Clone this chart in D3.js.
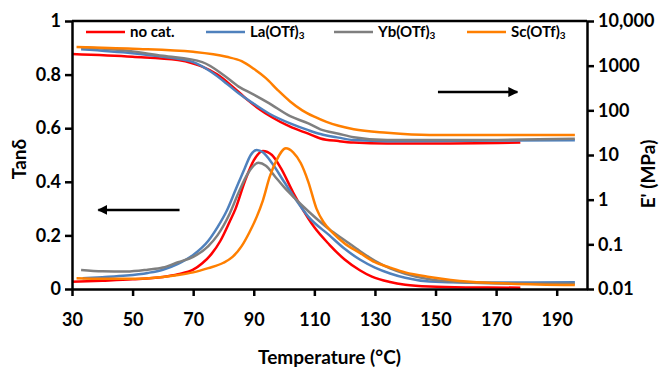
<!DOCTYPE html>
<html>
<head>
<meta charset="utf-8">
<script src="https://cdn.jsdelivr.net/npm/d3@7"></script>
<style>
  body { margin: 0; background: #fff; }
  svg { font-family: "Lato", sans-serif; font-weight: bold; }
</style>
</head>
<body>
<div class="canvas"></div>
<script>
// series names and colours
const seriesNames = ["no cat.", "La(OTf)", "Yb(OTf)", "Sc(OTf)"];
const seriesColors = ["#ff0000", "#4f81bd", "#7f7f7f", "#ff7f00"];

// tan delta curves, [temperature, tan delta]
const tanNoCat = [[30,0.027],[40,0.031],[50,0.036],[60,0.045],[65,0.055],[70,0.072],[73,0.096],[76,0.13],[79,0.18],[82,0.25],[84,0.3],[87,0.4],[90,0.48],[93,0.515],[96,0.5],[99,0.45],[103,0.36],[106,0.3],[110,0.23],[115,0.165],[120,0.11],[125,0.07],[129,0.046],[135,0.026],[140,0.016],[148,0.009],[160,0.006],[178,0.005]];
const tanLa = [[33.5,0.04],[40,0.044],[48,0.05],[55,0.06],[60,0.072],[65,0.094],[70,0.127],[75,0.18],[78,0.23],[81,0.29],[84,0.37],[87,0.45],[89,0.5],[91,0.519],[93,0.51],[96,0.47],[100,0.4],[103.6,0.338],[108,0.27],[115,0.2],[120,0.15],[125,0.11],[130,0.08],[135,0.058],[140,0.042],[148,0.028],[160,0.024],[175,0.024],[196,0.025]];
const tanYb = [[33,0.071],[40,0.066],[48,0.065],[55,0.072],[60,0.08],[65,0.1],[70,0.12],[75,0.16],[78,0.2],[82,0.28],[85,0.36],[88,0.43],[91.5,0.471],[94,0.46],[97,0.42],[100,0.38],[103.6,0.338],[108,0.29],[112,0.25],[115,0.222],[120,0.182],[125,0.142],[130,0.105],[135,0.077],[140,0.057],[148,0.036],[160,0.024],[175,0.02],[196,0.02]];
const tanSc = [[31.5,0.04],[40,0.038],[50,0.038],[60,0.045],[65,0.052],[70,0.062],[75,0.078],[80,0.098],[83,0.12],[86,0.16],[88.5,0.21],[91,0.27],[93,0.33],[95.3,0.42],[97.5,0.48],[100.6,0.525],[103,0.51],[105.5,0.47],[108,0.4],[110.7,0.3],[113,0.25],[116,0.21],[120,0.17],[125,0.135],[130,0.1],[135,0.08],[140,0.062],[148,0.045],[155,0.034],[161.5,0.027],[175,0.02],[196,0.015]];

// storage modulus curves, [temperature, E' in MPa]
const modNoCat = [[30,1820],[50,1580],[65,1340],[70,1120],[73,950],[78,630],[83,340],[88,170],[92,105],[96,70],[102,43],[108,30],[112,23.5],[118,20.5],[123,19],[134,18.2],[150,18.2],[178,19]];
const modLa = [[33,2340],[50,1900],[60,1580],[70,1200],[76,720],[81,400],[85,240],[90,140],[95,85],[102,51],[108,36],[112,29.5],[118,24.5],[123,21.6],[134,20.4],[160,20.8],[196,21.4]];
const modYb = [[33,2570],[50,2090],[60,1660],[73,1200],[80,620],[85,340],[90,225],[95,145],[102,74],[108,51],[112,37.6],[118,30],[123,25],[134,21.6],[160,21.6],[196,23]];
const modSc = [[31.5,2630],[50,2400],[70,2040],[81,1580],[86,1260],[90,850],[94,525],[98,280],[102,158],[106,100],[110,72],[114,55],[118,45],[123,37.6],[134,31.6],[148,28.2],[170,28.2],[196,28.2]];

// axis ticks
const xTicks = [30, 50, 70, 90, 110, 130, 150, 170, 190];
const tanTicks = [0, 0.2, 0.4, 0.6, 0.8, 1];
const modTicks = [0.01, 0.1, 1, 10, 100, 1000, 10000];
const modTickLabels = ["0.01", "0.1", "1", "10", "100", "1000", "10,000"];

const tanSeries = [tanNoCat, tanLa, tanYb, tanSc];
const modSeries = [modNoCat, modLa, modYb, modSc];

const dims = {width: 661, height: 368};
const margin = {top: 21, right: 74, bottom: 79, left: 72};

const svg = d3.select(".canvas")
    .append("svg")
    .attr("width", dims.width)
    .attr("height", dims.height);

const x = d3.scaleLinear()
    .domain([30, 200])
    .range([margin.left, dims.width - margin.right]);
const yTan = d3.scaleLinear()
    .domain([0, 1])
    .range([dims.height - margin.bottom, margin.top]);
const yMod = d3.scaleLog()
    .domain([0.01, 10000])
    .range([dims.height - margin.bottom, margin.top]);

// curves
const tanLine = d3.line()
    .x(d => x(d[0]))
    .y(d => yTan(d[1]))
    .curve(d3.curveMonotoneX);
const modLine = d3.line()
    .x(d => x(d[0]))
    .y(d => yMod(d[1]))
    .curve(d3.curveMonotoneX);

const curves = svg.append("g")
    .attr("fill", "none")
    .attr("stroke-width", 2.5)
    .attr("stroke-linejoin", "round");

modSeries.forEach((s, i) => {
    curves.append("path")
        .attr("d", modLine(s))
        .attr("stroke", seriesColors[i]);
});
tanSeries.forEach((s, i) => {
    curves.append("path")
        .attr("d", tanLine(s))
        .attr("stroke", seriesColors[i]);
});

// axes
const xAxis = svg.append("g")
    .attr("transform", `translate(0, ${yTan(0)})`)
    .call(d3.axisBottom(x).tickValues(xTicks).tickSize(7).tickPadding(17).tickSizeOuter(0));
const leftAxis = svg.append("g")
    .attr("transform", `translate(${x(30)}, 0)`)
    .call(d3.axisLeft(yTan).tickValues(tanTicks).tickSize(7).tickPadding(4).tickSizeOuter(0)
        .tickFormat(d => d === 0 || d === 1 ? String(d) : d.toFixed(1)));
const rightAxis = svg.append("g")
    .attr("transform", `translate(${x(200)}, 0)`)
    .call(d3.axisRight(yMod).tickValues(modTicks).tickSize(7).tickPadding(4).tickSizeOuter(0)
        .tickFormat((d, i) => modTickLabels[i]));

[xAxis, leftAxis, rightAxis].forEach(a => {
    a.selectAll("path, line").attr("stroke", "#000").attr("stroke-width", 2.5);
    a.selectAll("text")
        .attr("fill", "#000")
        .style("font-family", "Lato, sans-serif")
        .style("font-weight", "bold")
        .style("font-size", "18px");
});

// top frame line
svg.append("line")
    .attr("x1", x(30)).attr("x2", x(200))
    .attr("y1", yTan(1)).attr("y2", yTan(1))
    .attr("stroke", "#000").attr("stroke-width", 2.5);

// axis titles
svg.append("text")
    .attr("x", (x(30) + x(200)) / 2)
    .attr("y", 364)
    .attr("text-anchor", "middle")
    .style("font-size", "19px")
    .text("Temperature (°C)");
svg.append("text")
    .attr("transform", `translate(26, ${(yTan(0) + yTan(1)) / 2 + 4}) rotate(-90)`)
    .attr("text-anchor", "middle")
    .style("font-size", "19px")
    .text("Tanδ");
svg.append("text")
    .attr("transform", `translate(655, 174) rotate(-90)`)
    .attr("text-anchor", "middle")
    .style("font-size", "19px")
    .text("E' (MPa)");

// legend
const legendX = [86, 206, 334, 467];
const legend = svg.append("g");
seriesNames.forEach((name, i) => {
    legend.append("line")
        .attr("x1", legendX[i]).attr("x2", legendX[i] + 39)
        .attr("y1", 32).attr("y2", 32)
        .attr("stroke", seriesColors[i])
        .attr("stroke-width", 2.5);
    const t = legend.append("text")
        .attr("x", legendX[i] + 44)
        .attr("y", 37)
        .style("font-size", "15px")
        .text(name);
    if (i > 0) {
        t.append("tspan")
            .attr("dy", 2)
            .style("font-size", "10px")
            .text("3");
    }
});

// arrows pointing to the axis each group belongs to
const defs = svg.append("defs");
defs.append("marker")
    .attr("id", "head")
    .attr("viewBox", "0 0 10 10")
    .attr("refX", 9).attr("refY", 5)
    .attr("markerWidth", 4).attr("markerHeight", 4)
    .attr("orient", "auto")
    .append("path")
    .attr("d", "M0,0L10,5L0,10Z")
    .attr("fill", "#000");

const arrowTan = {from: 65.5, to: 38.7, value: 0.295};
const arrowMod = {from: 150.8, to: 177, value: 257};
svg.append("line")
    .attr("x1", x(arrowTan.from)).attr("x2", x(arrowTan.to))
    .attr("y1", yTan(arrowTan.value)).attr("y2", yTan(arrowTan.value))
    .attr("stroke", "#000").attr("stroke-width", 2.5)
    .attr("marker-end", "url(#head)");
svg.append("line")
    .attr("x1", x(arrowMod.from)).attr("x2", x(arrowMod.to))
    .attr("y1", yMod(arrowMod.value)).attr("y2", yMod(arrowMod.value))
    .attr("stroke", "#000").attr("stroke-width", 2.5)
    .attr("marker-end", "url(#head)");
</script>
</body>
</html>
